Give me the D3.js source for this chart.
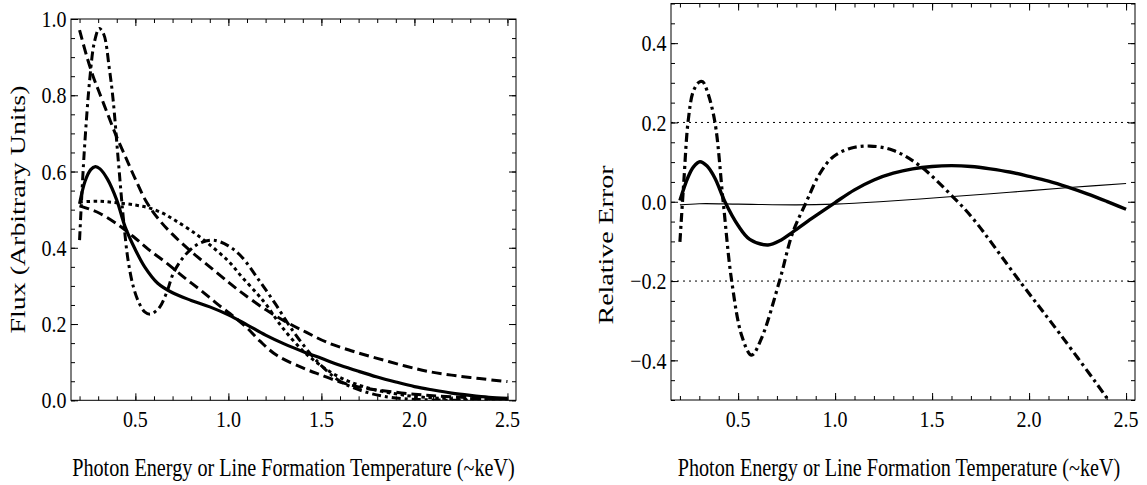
<!DOCTYPE html>
<html>
<head>
<meta charset="utf-8">
<script src="https://cdn.jsdelivr.net/npm/d3@7"></script>
<style>
  body { margin: 0; background: #fff; }
  text { font-family: "Liberation Serif", "Times New Roman", serif; fill: #000; }
</style>
</head>
<body>
<svg id="chart" width="1147" height="485"></svg>
<script>
// ---- data ----
const xTicks = [0.5, 1.0, 1.5, 2.0, 2.5];
const fluxTicks = [0.0, 0.2, 0.4, 0.6, 0.8, 1.0];
const errTicks = [-0.4, -0.2, 0.0, 0.2, 0.4];
const errLimits = [-0.2, 0.2];

// left panel: flux curves [energy, flux]
const fluxModel = [[0.2,0.515],[0.23,0.575],[0.26,0.605],[0.285,0.613],[0.31,0.607],[0.35,0.58],[0.4,0.525],
  [0.445,0.455],[0.5,0.395],[0.55,0.35],[0.62,0.307],[0.7,0.282],[0.8,0.262],[0.9,0.245],[1.0,0.224],
  [1.1,0.198],[1.2,0.171],[1.3,0.148],[1.4,0.128],[1.5,0.11],[1.6,0.092],[1.7,0.076],[1.8,0.061],
  [1.9,0.048],[2.0,0.036],[2.1,0.027],[2.2,0.019],[2.3,0.013],[2.4,0.008],[2.5,0.005]];
const fluxSteep = [[0.2,0.971],[0.237,0.905],[0.274,0.848],[0.3,0.815],[0.35,0.752],[0.4,0.69],[0.45,0.635],
  [0.5,0.58],[0.56,0.52],[0.63,0.472],[0.7,0.435],[0.8,0.39],[0.9,0.35],[1.0,0.31],[1.07,0.283],
  [1.2,0.238],[1.32,0.203],[1.42,0.178],[1.53,0.152],[1.66,0.13],[1.8,0.11],[1.95,0.09],[2.07,0.076],
  [2.2,0.066],[2.35,0.057],[2.5,0.049]];
const fluxFlat = [[0.2,0.52],[0.3,0.522],[0.4,0.518],[0.5,0.512],[0.57,0.505],[0.65,0.49],[0.713,0.472],
  [0.8,0.445],[0.892,0.411],[1.0,0.365],[1.072,0.324],[1.15,0.282],[1.2,0.253],[1.287,0.193],[1.4,0.13],
  [1.5,0.09],[1.6,0.06],[1.7,0.04],[1.8,0.026],[1.9,0.017],[2.0,0.01],[2.2,0.004],[2.5,0.001]];
const fluxLinear = [[0.2,0.51],[0.25,0.502],[0.31,0.49],[0.4,0.463],[0.49,0.429],[0.57,0.396],[0.67,0.359],
  [0.76,0.323],[0.85,0.289],[0.94,0.253],[1.03,0.219],[1.1,0.19],[1.17,0.155],[1.26,0.118],[1.4,0.085],
  [1.5,0.066],[1.6,0.048],[1.7,0.035],[1.8,0.027],[2.0,0.016],[2.2,0.009],[2.5,0.003]];
const fluxWiggle = [[0.2,0.42],[0.225,0.65],[0.256,0.848],[0.28,0.94],[0.306,0.975],[0.33,0.96],[0.36,0.87],
  [0.38,0.79],[0.408,0.63],[0.435,0.48],[0.46,0.37],[0.489,0.298],[0.52,0.255],[0.55,0.232],[0.579,0.226],
  [0.605,0.232],[0.632,0.245],[0.67,0.285],[0.704,0.333],[0.75,0.37],[0.794,0.394],[0.85,0.413],[0.919,0.42],
  [1.0,0.405],[1.072,0.376],[1.16,0.318],[1.251,0.254],[1.35,0.18],[1.47,0.106],[1.6,0.05],[1.75,0.02],
  [1.9,0.006],[2.1,0.001],[2.5,0.0]];

// right panel: relative error curves [energy, error]
const errModel = [[0.2,0.003],[0.24,0.06],[0.27,0.088],[0.303,0.101],[0.34,0.09],[0.38,0.06],[0.432,0.0],
  [0.5,-0.06],[0.56,-0.095],[0.654,-0.109],[0.72,-0.097],[0.783,-0.076],[0.88,-0.042],[1.0,-0.002],
  [1.1,0.03],[1.2,0.055],[1.3,0.072],[1.4,0.083],[1.5,0.089],[1.6,0.091],[1.7,0.089],[1.8,0.083],
  [1.9,0.075],[2.0,0.064],[2.1,0.052],[2.2,0.037],[2.3,0.02],[2.4,0.001],[2.5,-0.019]];
const errThin = [[0.2,-0.008],[0.3,-0.005],[0.5,-0.006],[0.8,-0.008],[1.0,-0.006],[1.23,0.0],[1.59,0.0126],
  [1.9,0.024],[2.208,0.036],[2.5,0.046]];
const errWiggle = [[0.2,-0.101],[0.22,0.05],[0.243,0.206],[0.27,0.28],[0.3,0.302],[0.317,0.303],[0.34,0.28],
  [0.38,0.202],[0.423,0.0],[0.466,-0.197],[0.52,-0.34],[0.569,-0.387],[0.62,-0.345],[0.715,-0.197],
  [0.78,-0.08],[0.852,0.0],[0.92,0.07],[0.989,0.113],[1.08,0.135],[1.178,0.1405],[1.298,0.13],
  [1.436,0.091],[1.607,0.0126],[1.71,-0.042],[1.951,-0.2],[2.157,-0.332],[2.397,-0.492],[2.45,-0.53]];

// ---- layout ----
const svg = d3.select("#chart");
const xDomain = [0.154, 2.546];
const SY = 1.2; // the figure is stretched vertically
const fmt = d3.format(".1f");

const panels = [
  {id: "flux", x0: 71, x1: 516, y0: 19, y1: 400.3, yDomain: [0, 1], yTicks: fluxTicks, yMinor: 0.05,
   ylabel: "Flux (Arbitrary Units)", ylabelX: 25, ylabelY: 209.5, ylabelLen: 248,
   series: [
     {data: fluxSteep, dash: "10,5", w: 3},
     {data: fluxLinear, dash: "10,5", w: 3},
     {data: fluxFlat, dash: "3.5,3.5", w: 3},
     {data: fluxWiggle, dash: "9,4,3,4", w: 3},
     {data: fluxModel, dash: null, w: 3.2}
   ]},
  {id: "err", x0: 671, x1: 1135, y0: 3.5, y1: 400, yDomain: [-0.5, 0.5], yTicks: errTicks, yMinor: 0.05,
   ylabel: "Relative Error", ylabelX: 613, ylabelY: 245, ylabelLen: 159,
   series: [
     {data: errThin, dash: null, w: 1.1},
     {data: errWiggle, dash: "9,4,3,4", w: 3.2},
     {data: errModel, dash: null, w: 3.4}
   ],
   guides: errLimits}
];

panels.forEach(p => {
  const x = d3.scaleLinear().domain(xDomain).range([p.x0, p.x1]);
  const y = d3.scaleLinear().domain(p.yDomain).range([p.y1, p.y0]);
  const g = svg.append("g");

  g.append("clipPath").attr("id", "clip-" + p.id)
    .append("rect").attr("x", p.x0).attr("y", p.y0).attr("width", p.x1 - p.x0).attr("height", p.y1 - p.y0);

  const plot = g.append("g").attr("clip-path", `url(#clip-${p.id})`);

  // dotted limit lines
  (p.guides || []).forEach(v => {
    plot.append("line")
      .attr("x1", p.x0).attr("x2", p.x1)
      .attr("y1", y(v)).attr("y2", y(v))
      .attr("stroke", "#000").attr("stroke-width", 1)
      .attr("stroke-dasharray", "2,4");
  });

  const line = d3.line()
    .x(d => x(d[0]))
    .y(d => y(d[1]))
    .curve(d3.curveCatmullRom.alpha(0.5));

  p.series.forEach(s => {
    plot.append("path")
      .attr("d", line(s.data))
      .attr("fill", "none")
      .attr("stroke", "#000")
      .attr("stroke-width", s.w)
      .attr("stroke-dasharray", s.dash);
  });

  // ticks, inside the frame on all four sides
  const xMinorVals = d3.range(2, 26).map(i => i / 10);
  const yMinorVals = d3.range(Math.round(p.yDomain[0] / p.yMinor), Math.round(p.yDomain[1] / p.yMinor) + 1)
    .map(i => +(i * p.yMinor).toFixed(2));

  const addAxis = (axis, transform) => {
    const a = g.append("g").attr("transform", transform).call(axis);
    a.select(".domain").remove();
    a.selectAll("line").attr("stroke", "#000").attr("stroke-width", 1);
    a.selectAll("text").remove();
  };
  [[d3.axisBottom, `translate(0,${p.y1})`], [d3.axisTop, `translate(0,${p.y0})`]].forEach(([ax, tr]) => {
    addAxis(ax(x).tickValues(xMinorVals).tickSize(-4).tickFormat(""), tr);
    addAxis(ax(x).tickValues(xTicks).tickSize(-7).tickFormat(""), tr);
  });
  [[d3.axisLeft, `translate(${p.x0},0)`], [d3.axisRight, `translate(${p.x1},0)`]].forEach(([ax, tr]) => {
    addAxis(ax(y).tickValues(yMinorVals).tickSize(-4).tickFormat(""), tr);
    addAxis(ax(y).tickValues(p.yTicks).tickSize(-7).tickFormat(""), tr);
  });

  // frame
  g.append("rect")
    .attr("x", p.x0).attr("y", p.y0)
    .attr("width", p.x1 - p.x0).attr("height", p.y1 - p.y0)
    .attr("fill", "none").attr("stroke", "#000").attr("stroke-width", 1);

  // tick labels
  xTicks.forEach(v => {
    g.append("text")
      .attr("transform", `translate(${x(v)},426.5) scale(1,${SY})`)
      .attr("text-anchor", "middle")
      .attr("font-size", 20)
      .text(fmt(v));
  });
  p.yTicks.forEach(v => {
    g.append("text")
      .attr("transform", `translate(${p.x0 - 4.5},${y(v)}) scale(1,${SY})`)
      .attr("y", 6.8)
      .attr("text-anchor", "end")
      .attr("font-size", 20)
      .text(fmt(v));
  });

  // axis titles
  g.append("text")
    .attr("transform", `translate(${(p.x0 + p.x1) / 2 - (p.id === "err" ? 4 : 0)},476) scale(1,${SY})`)
    .attr("text-anchor", "middle")
    .attr("font-size", 20.2)
    .text("Photon Energy or Line Formation Temperature (~keV)");

  g.append("text")
    .attr("transform", `translate(${p.ylabelX},${p.ylabelY}) rotate(-90)`)
    .attr("text-anchor", "middle")
    .attr("font-size", 20)
    .attr("textLength", p.ylabelLen)
    .attr("lengthAdjust", "spacingAndGlyphs")
    .text(p.ylabel);
});
</script>
</body>
</html>
